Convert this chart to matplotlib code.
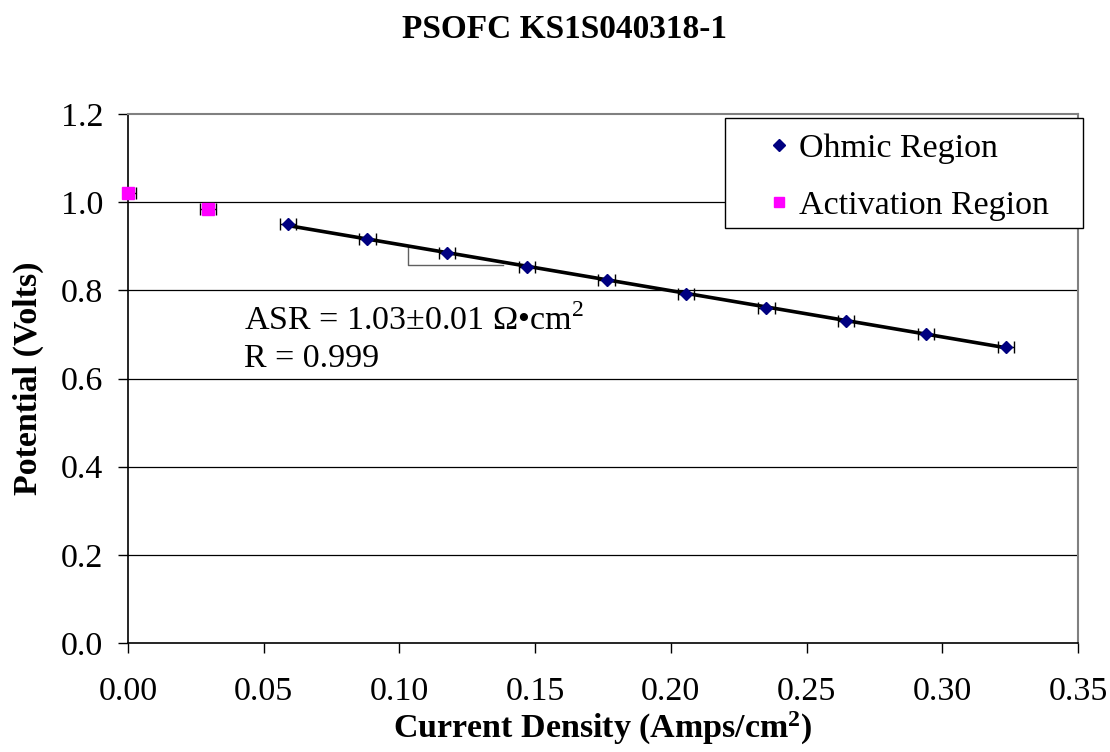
import numpy as np
import matplotlib
matplotlib.use("Agg")
import matplotlib.pyplot as plt
from matplotlib.patches import Rectangle

# ---- data ----
ohmic_x = [0.0590, 0.0882, 0.1176, 0.1469, 0.1763, 0.2055, 0.2352, 0.2646, 0.2939, 0.3234]
ohmic_y = [0.950, 0.917, 0.885, 0.852, 0.823, 0.792, 0.761, 0.731, 0.702, 0.672]
act_x = [0.000, 0.0296]
act_y = [1.020, 0.985]
x_err = 0.003
x_ticks = [0.00, 0.05, 0.10, 0.15, 0.20, 0.25, 0.30, 0.35]
y_ticks = [0.0, 0.2, 0.4, 0.6, 0.8, 1.0, 1.2]
title = "PSOFC KS1S040318-1"
x_label = "Current Density (Amps/cm$\\mathbf{^2}$)"
y_label = "Potential (Volts)"
asr_text = "ASR = 1.03\u00b10.01 \u03a9\u2022cm$^2$"
r_text = "R = 0.999"
series_names = ["Ohmic Region", "Activation Region"]
# slope triangle (data coords)
tri_x0, tri_x1, tri_ybase = 0.103, 0.1383, 0.858

FS = 24.5
W, H = 1110, 752

plt.rcParams['font.family'] = ['Liberation Serif', 'DejaVu Serif']
plt.rcParams['mathtext.fontset'] = 'custom'
plt.rcParams['mathtext.rm'] = 'Liberation Serif'
plt.rcParams['mathtext.bf'] = 'Liberation Serif:bold'

fig = plt.figure(figsize=(W/100, H/100), dpi=100)
ax = fig.add_axes([128/W, 1 - 643/H, (1078-128)/W, (643-114)/H])

ax.set_xlim(0, 0.35)
ax.set_ylim(0, 1.2)
ax.set_xticks(x_ticks)
ax.set_xticklabels([f"{v:.2f}" for v in x_ticks])
ax.set_yticks(y_ticks)
ax.set_yticklabels([f"{v:.1f}" for v in y_ticks])

for v in y_ticks[1:-1]:
    ax.axhline(v, color='black', lw=0.9, zorder=1)

ax.spines['left'].set_color('black')
ax.spines['bottom'].set_color('black')
ax.spines['top'].set_color('#808080')
ax.spines['right'].set_color('#808080')
for s in ax.spines.values():
    s.set_linewidth(1.2)
ax.spines['top'].set_linewidth(1.5)
ax.spines['right'].set_linewidth(1.5)

ax.tick_params(axis='both', direction='out', length=7, width=1, labelsize=FS, colors='black')
ax.tick_params(axis='x', pad=17)
ax.tick_params(axis='y', pad=11)

# fit line
coef = np.polyfit(ohmic_x, ohmic_y, 1)
fx = np.array([min(ohmic_x), max(ohmic_x)])
ax.plot(fx, np.polyval(coef, fx), color='black', lw=2.6, zorder=3)

# slope triangle
ytop = np.polyval(coef, tri_x0)
ax.plot([tri_x0, tri_x0, tri_x1], [ytop, tri_ybase, tri_ybase], color='#606060', lw=1.0, zorder=2)

ax.errorbar(ohmic_x, ohmic_y, xerr=x_err, fmt='none',
            ecolor='black', elinewidth=1, capsize=4, capthick=1, zorder=4)
ax.plot(ohmic_x, ohmic_y, 'D', color='#000080', ms=6, zorder=5)
ax.errorbar(act_x, act_y, xerr=x_err, fmt='none',
            ecolor='black', elinewidth=1, capsize=4, capthick=1, zorder=4)
ax.plot(act_x, act_y, 's', color='#FF00FF', ms=8, zorder=5, clip_on=False)

ax.text(0.0428, 0.710, asr_text, fontsize=FS, ha='left', va='baseline')
ax.text(0.0428, 0.626, r_text, fontsize=FS, ha='left', va='baseline')

ax.set_xlabel(x_label, fontsize=FS, fontweight='bold', labelpad=2)
ax.set_ylabel(y_label, fontsize=FS, fontweight='bold', labelpad=12)
fig.text(565/W, 1 - 30/H, title, fontsize=24, fontweight='bold', ha='center', va='center')

# legend box
fig.patches.append(Rectangle((725/W, 1 - 228/H), (1083-725)/W, (228-118)/H,
                             transform=fig.transFigure, facecolor='white',
                             edgecolor='black', lw=1.0, zorder=10))
hs = [plt.Line2D([], [], marker='D', ls='none', color='#000080', ms=6),
      plt.Line2D([], [], marker='s', ls='none', color='#FF00FF', ms=7)]
leg = fig.legend(hs, series_names, loc='center left', bbox_to_anchor=(762/W, 1 - 177/H),
                 fontsize=FS, frameon=False, borderpad=0, handlelength=1.0,
                 handletextpad=0.09, labelspacing=0.75, borderaxespad=0)
leg.set_zorder(11)

fig.savefig("out.png", dpi=100)
